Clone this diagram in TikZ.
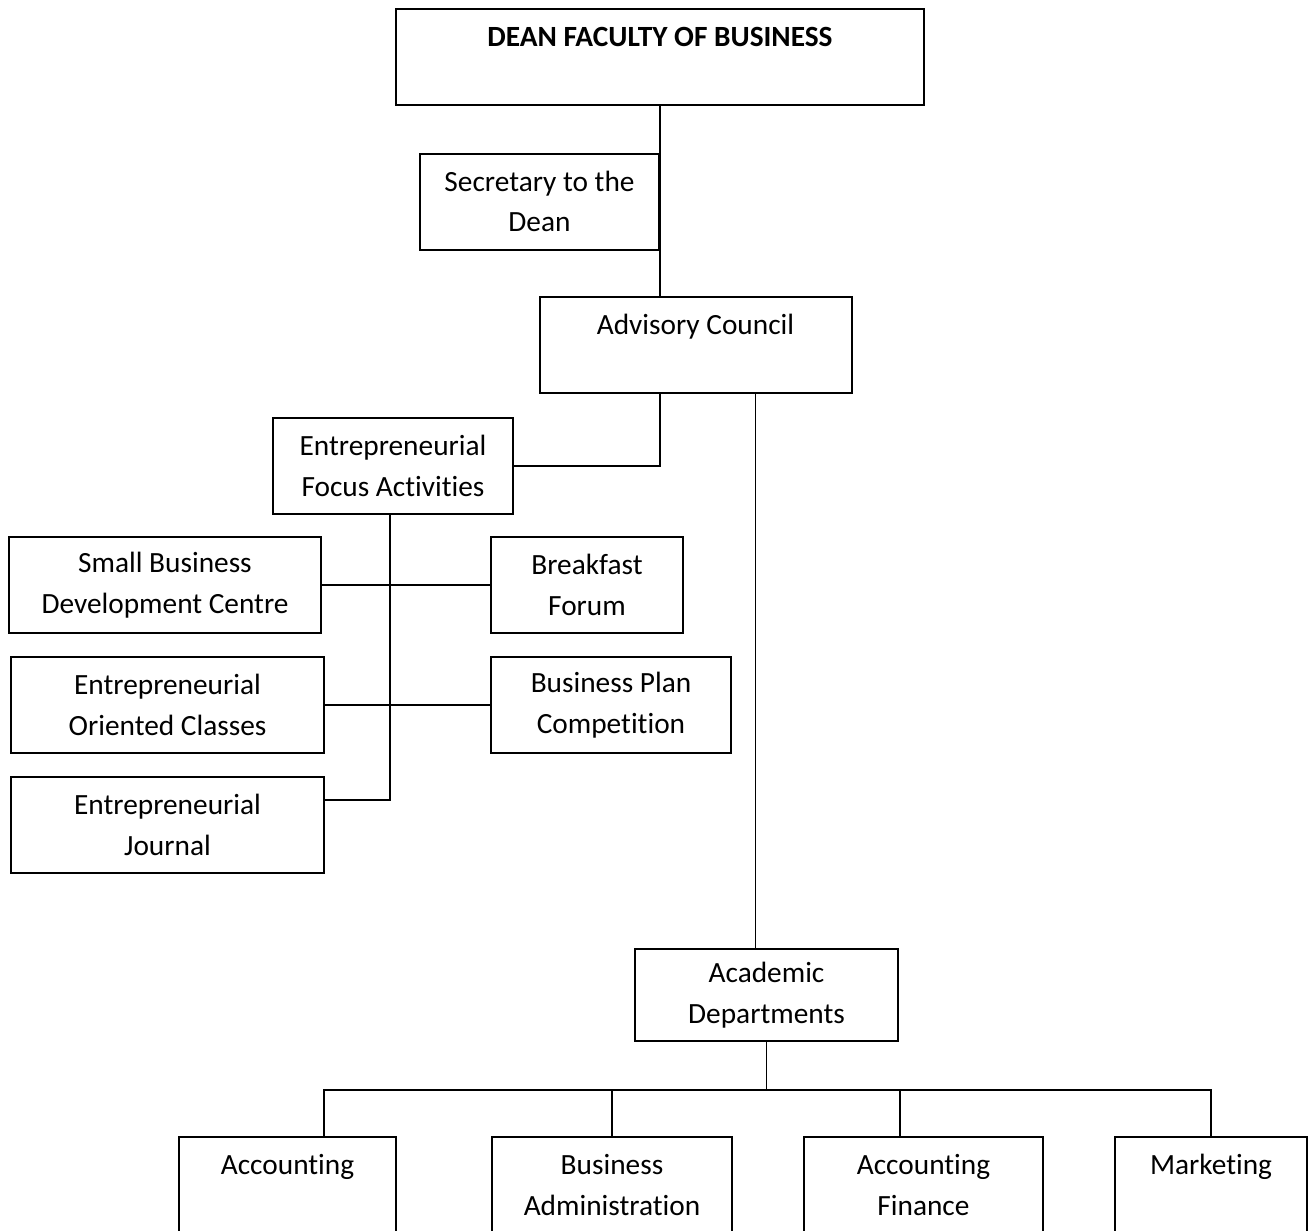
\documentclass[tikz,border=0pt]{standalone}
\usepackage{fontspec}
\setmainfont[Ligatures=NoCommon]{Carlito}
\usetikzlibrary{positioning}

\begin{document}
\begin{tikzpicture}[x=0.375pt, y=-0.375pt,
        box/.style={draw, line width=0.75pt, align=center, inner sep=0pt, minimum height=36pt, font=\fontsize{11pt}{15.2pt}\selectfont},
        link/.style={line width=0.6pt}]
        \useasboundingbox (0,0) rectangle (1311,1230);
        \node[box, minimum width=198pt] (dean) at (660,57) {\textbf{DEAN FACULTY OF BUSINESS}\\\mbox{}};
        \node[box, minimum width=89.6pt] (secr) at (539.5,201.5) {Secretary to the\\Dean};
        \node[box, minimum width=117pt] (adv) at (695.5,344.5) {Advisory Council\\\mbox{}};
        \node[box, minimum width=90pt] (efa) at (393,466) {Entrepreneurial\\Focus Activities};
        \node[box, minimum width=117pt] (sbdc) at (165,585) {Small Business\\Development Centre};
        \node[box, minimum width=72pt] (bf) at (587,585) {Breakfast\\Forum};
        \node[box, minimum width=117.4pt] (eoc) at (167.5,705) {Entrepreneurial\\Oriented Classes};
        \node[box, minimum width=90pt] (bpc) at (611,705) {Business Plan\\Competition};
        \node[box, minimum width=117.4pt] (ej) at (167.5,825) {Entrepreneurial\\Journal};
        \node[box, minimum width=98.6pt, minimum height=34.5pt] (acd) at (766.5,995) {Academic\\Departments};
        \node[box, minimum width=81.4pt] (acc) at (287.5,1185) {Accounting\\\mbox{}};
        \node[box, minimum width=90pt] (ba) at (612,1185) {Business\\Administration};
        \node[box, minimum width=89.6pt] (af) at (923.5,1185) {Accounting\\Finance};
        \node[box, minimum width=72pt] (mkt) at (1211,1185) {Marketing\\\mbox{}};
        \coordinate (efaB) at ([xshift=-1.1pt]efa.south);
        \coordinate (ejT) at ([yshift=-9pt]ej.north east);
        \coordinate (bus) at ([yshift=-18pt]acd.south);
        \coordinate (accT) at ([xshift=13.7pt]acc.north);
        \coordinate (afT) at ([xshift=-8.8pt]af.north);
        \draw[link] (dean.south) -- (dean.south |- adv.north);
        \draw[link] (secr.east |- adv.south) |- (efa.east);
        \draw[link] ([xshift=-4.1pt]adv.south -| acd.north) -- ([xshift=-4.1pt]acd.north);
        \draw[link] (efaB) |- (ejT);
        \draw[link] (sbdc) -- (bf);
        \draw[link] (eoc) -- (bpc);
        \draw[link] (acd.south) -- (bus);
        \draw[link] (accT) |- (bus) -| (mkt.north);
        \draw[link] (ba.north) -- (ba.north |- bus);
        \draw[link] (afT) -- (afT |- bus);
    \end{tikzpicture}
\end{document}
